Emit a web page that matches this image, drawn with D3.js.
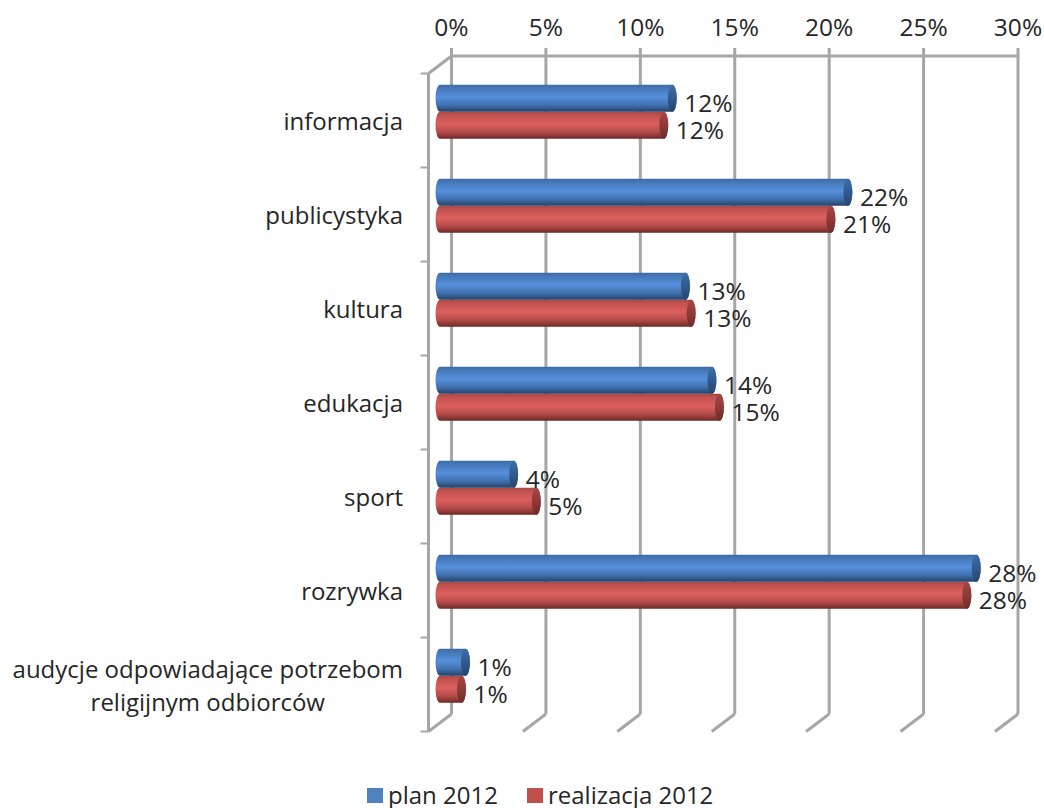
<!DOCTYPE html>
<html><head><meta charset="utf-8">
<script src="https://cdnjs.cloudflare.com/ajax/libs/d3/7.8.5/d3.min.js"></script>
<style>html,body{margin:0;background:#fff}svg{display:block}text{font-family:"Open Sans",sans-serif;fill:#262626}</style>
</head><body><svg id="c" width="1044" height="808"></svg>
<script>
const categories=["informacja","publicystyka","kultura","edukacja","sport","rozrywka","audycje odpowiadające potrzebom\nreligijnym odbiorców"];
const planValues=[12.3,21.6,13.0,14.4,3.9,28.4,1.35];
const realValues=[11.85,20.7,13.3,14.8,5.1,27.9,1.14];
const seriesNames=["plan 2012","realizacja 2012"];
const ticks=[0,5,10,15,20,25,30];

const svg=d3.select("#c");
const fs=24, fsNum=24.5;
const depthX=23,depthY=17.5;
const x=d3.scaleLinear().domain([0,30]).range([451.5,1018]);
const y=d3.scaleBand().domain(categories).range([73.5,731.5]).padding(0);
const grid="#a6a6a6";
const g=svg.append("g").attr("fill","none").attr("stroke",grid).attr("stroke-width",3);
const backTop=y(categories[0])-depthY, backBot=731.5-depthY;
ticks.forEach(t=>{
  g.append("line").attr("x1",x(t)).attr("x2",x(t)).attr("y1",backTop-8).attr("y2",backBot);
  g.append("line").attr("x1",x(t)).attr("x2",x(t)-depthX).attr("y1",backBot).attr("y2",backBot+depthY);
});
g.append("line").attr("x1",x(0)).attr("x2",x(30)).attr("y1",backTop).attr("y2",backTop);
g.append("line").attr("x1",x(0)-depthX).attr("x2",x(0)-depthX).attr("y1",backTop+depthY).attr("y2",backBot+depthY);
g.append("line").attr("x1",x(0)-depthX).attr("x2",x(0)).attr("y1",backTop+depthY).attr("y2",backTop);
[...categories.map(c=>y(c)),731.5].forEach(v=>g.append("line").attr("x1",x(0)-depthX-8).attr("x2",x(0)-depthX).attr("y1",v).attr("y2",v).attr("stroke-width",2));

svg.append("g").selectAll("text").data(ticks).join("text")
  .attr("x",d=>x(d)).attr("y",27).attr("dy","0.36em").attr("text-anchor","middle").attr("font-size",fsNum).text(d=>d+"%");

const defs=svg.append("defs");
function grad(id,stops){const l=defs.append("linearGradient").attr("id",id).attr("x1",0).attr("x2",0).attr("y1",0).attr("y2",1);
  stops.forEach(([o,c])=>l.append("stop").attr("offset",o).attr("stop-color",c));}
grad("gb",[[0,"#3c6ba6"],[.12,"#4577b5"],[.45,"#558fdc"],[.72,"#4475b4"],[.9,"#2f5686"],[1,"#243f63"]]);
grad("gr",[[0,"#a84543"],[.12,"#c05250"],[.45,"#dc5f5d"],[.72,"#b94e4c"],[.9,"#8c3735"],[1,"#682826"]]);
grad("cb",[[0,"#3f6ea8"],[.5,"#315a8e"],[1,"#264669"]]);
grad("cr",[[0,"#a84644"],[.5,"#8f3a38"],[1,"#6d2b29"]]);

const barH=27, rx=4.5, base=x(0)-depthX/2;
const bx=v=>base+(x(v)-x(0));
const series=[{vals:planValues,f:"url(#gb)",c:"url(#cb)",off:-barH},{vals:realValues,f:"url(#gr)",c:"url(#cr)",off:0}];
const mid=c=>y(c)+y.bandwidth()/2-depthY/2;
series.slice().reverse().forEach(s=>{
  const b=svg.append("g");
  categories.forEach((c,i)=>{
    const top=mid(c)+s.off, x1=bx(s.vals[i]);
    const p=`M${base},${top}L${x1},${top}A${rx},${barH/2} 0 0 1 ${x1},${top+barH}L${base},${top+barH}A${rx},${barH/2} 0 0 1 ${base},${top}Z`;
    b.append("path").attr("d",p).attr("fill",s.f);
    b.append("ellipse").attr("cx",x1).attr("cy",top+barH/2).attr("rx",rx).attr("ry",barH/2).attr("fill",s.c);
    b.append("text").attr("x",x1+rx+7.5).attr("y",top+barH/2+4.5).attr("dy","0.36em").attr("font-size",fsNum).text(d3.format(".0f")(s.vals[i])+"%");
  });
});

const cats=svg.append("g");
categories.forEach(c=>{
  const lines=c.split("\n"), cy=mid(c)+10;
  if(lines.length===1){cats.append("text").attr("x",403).attr("y",cy).attr("dy","0.36em").attr("text-anchor","end").attr("font-size",fs).text(c);}
  else{
    const ts=lines.map((l,i)=>cats.append("text").attr("y",cy+(i-0.5)*33).attr("dy","0.36em").attr("text-anchor","middle").attr("font-size",fs).text(l));
    const w=d3.max(ts,t=>t.node().getComputedTextLength());
    ts.forEach(t=>t.attr("x",403-w/2));
  }
});

const legend=svg.append("g");
const lx=d3.scaleOrdinal().domain(seriesNames).range([367,527]);
const lc=d3.scaleOrdinal().domain(seriesNames).range(["#4f81bd","#c0504d"]);
seriesNames.forEach(n=>{
  legend.append("rect").attr("x",lx(n)).attr("y",788).attr("width",16).attr("height",15).attr("fill",lc(n));
  legend.append("text").attr("x",lx(n)+21).attr("y",795).attr("dy","0.36em").attr("font-size",fs).text(n);
});
</script></body></html>
